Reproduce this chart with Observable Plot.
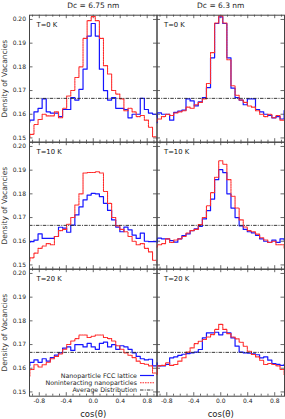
<!DOCTYPE html>
<html><head><meta charset="utf-8">
<script src="https://cdn.jsdelivr.net/npm/d3@7"></script>
<script src="https://cdn.jsdelivr.net/npm/@observablehq/plot@0.6"></script>
<style>
html,body{margin:0;padding:0;background:#fff;}
#chart{position:relative;width:285px;height:419px;font-family:"DejaVu Sans",sans-serif;}
#chart svg{position:absolute;left:0;top:0;}
</style></head><body><div id="chart"></div>
<script>
// ---- bins (cos theta bin centres) ----
const cosTheta = [-0.9697,-0.9091,-0.8485,-0.7879,-0.7273,-0.6667,-0.6061,-0.5455,-0.4848,-0.4242,-0.3636,-0.3030,-0.2424,-0.1818,-0.1212,-0.0606,0.0000,
  0.0606,0.1212,0.1818,0.2424,0.3030,0.3636,0.4242,0.4848,0.5455,0.6061,0.6667,0.7273,0.7879,0.8485,0.9091,0.9697];

const dcLabels = ["Dc = 6.75 nm", "Dc = 6.3 nm"];
const tempLabels = ["T=0 K", "T=10 K", "T=20 K"];
const yTickValues = [0.15, 0.16, 0.17, 0.18, 0.19, 0.20];
const xTickValues = [-0.8, -0.4, 0, 0.4, 0.8];
const xMinorTicks = [-0.9,-0.7,-0.6,-0.5,-0.3,-0.2,-0.1,0.1,0.2,0.3,0.5,0.6,0.7,0.9];
const avgDensity = [0.1667];
const yLabel = "Density of Vacancies";
const xLabel = "cos(θ)";
const legendLabels = ["Nanoparticle FCC lattice", "Noninteracting nanoparticles", "Average Distribution"];

// ---- Dc = 6.75 nm ----
const fcc_675_T0 = [0.1567,0.1575,0.1610,0.1625,0.1665,0.1610,0.1605,0.1605,0.1590,0.1620,0.1620,0.1670,0.1660,0.1705,0.1790,0.1930,0.1983,
  0.1930,0.1790,0.1700,0.1660,0.1670,0.1625,0.1625,0.1620,0.1585,0.1600,0.1600,0.1667,0.1620,0.1605,0.1600,0.1590];
const non_675_T0 = [0.1500,0.1515,0.1557,0.1578,0.1600,0.1593,0.1593,0.1610,0.1585,0.1625,0.1677,0.1700,0.1755,0.1800,0.1920,0.1995,0.2012,
  0.1995,0.1920,0.1805,0.1770,0.1700,0.1685,0.1665,0.1615,0.1625,0.1610,0.1590,0.1595,0.1575,0.1545,0.1505,0.1495];
const fcc_675_T10 = [0.1595,0.1598,0.1605,0.1631,0.1612,0.1612,0.1612,0.1620,0.1659,0.1655,0.1638,0.1668,0.1711,0.1745,0.1775,0.1795,0.1802,
  0.1800,0.1788,0.1760,0.1730,0.1690,0.1660,0.1640,0.1660,0.1648,0.1626,0.1612,0.1634,0.1600,0.1598,0.1598,0.1600];
const non_675_T10 = [0.1515,0.1530,0.1550,0.1570,0.1580,0.1590,0.1585,0.1620,0.1645,0.1650,0.1672,0.1700,0.1753,0.1800,0.1888,0.1890,0.1890,
  0.1893,0.1888,0.1810,0.1760,0.1700,0.1665,0.1650,0.1640,0.1620,0.1600,0.1585,0.1590,0.1570,0.1555,0.1520,0.1510];
const fcc_675_T20 = [0.1610,0.1625,0.1635,0.1625,0.1640,0.1630,0.1645,0.1655,0.1665,0.1685,0.1690,0.1675,0.1700,0.1700,0.1690,0.1705,0.1690,
  0.1680,0.1705,0.1710,0.1690,0.1700,0.1680,0.1695,0.1690,0.1680,0.1665,0.1650,0.1640,0.1635,0.1638,0.1610,0.1620];
const non_675_T20 = [0.1565,0.1595,0.1615,0.1605,0.1615,0.1625,0.1640,0.1650,0.1660,0.1680,0.1700,0.1715,0.1725,0.1740,0.1740,0.1730,0.1735,
  0.1740,0.1740,0.1730,0.1725,0.1715,0.1695,0.1680,0.1665,0.1655,0.1645,0.1630,0.1620,0.1617,0.1610,0.1580,0.1575];

// ---- Dc = 6.3 nm ----
const fcc_63_T0 = [0.1564,0.1606,0.1600,0.1600,0.1575,0.1608,0.1613,0.1617,0.1665,0.1656,0.1635,0.1652,0.1670,0.1712,0.1838,0.1983,0.2011,
  0.1983,0.1838,0.1710,0.1670,0.1660,0.1640,0.1665,0.1665,0.1620,0.1610,0.1600,0.1595,0.1585,0.1590,0.1580,0.1615];
const non_63_T0 = [0.1570,0.1580,0.1590,0.1600,0.1595,0.1605,0.1610,0.1615,0.1630,0.1625,0.1640,0.1650,0.1665,0.1730,0.1860,0.1985,0.2015,
  0.1985,0.1830,0.1720,0.1680,0.1660,0.1650,0.1635,0.1630,0.1615,0.1600,0.1590,0.1600,0.1585,0.1595,0.1575,0.1575];
const fcc_63_T10 = [0.1596,0.1613,0.1610,0.1610,0.1603,0.1596,0.1610,0.1624,0.1631,0.1645,0.1652,0.1663,0.1694,0.1729,0.1778,0.1860,0.1902,
  0.1890,0.1800,0.1740,0.1700,0.1665,0.1650,0.1640,0.1635,0.1625,0.1610,0.1600,0.1595,0.1605,0.1595,0.1610,0.1605];
const non_63_T10 = [0.1575,0.1585,0.1590,0.1610,0.1595,0.1605,0.1610,0.1620,0.1635,0.1645,0.1650,0.1670,0.1700,0.1750,0.1805,0.1870,0.1940,
  0.1925,0.1860,0.1790,0.1740,0.1690,0.1660,0.1645,0.1640,0.1630,0.1615,0.1605,0.1595,0.1600,0.1585,0.1585,0.1570];
const fcc_63_T20 = [0.1623,0.1610,0.1610,0.1616,0.1644,0.1648,0.1654,0.1659,0.1662,0.1665,0.1668,0.1679,0.1728,0.1749,0.1749,0.1752,0.1741,
  0.1752,0.1749,0.1728,0.1693,0.1668,0.1665,0.1664,0.1661,0.1657,0.1644,0.1648,0.1634,0.1620,0.1616,0.1612,0.1616];
const non_63_T20 = [0.1574,0.1610,0.1612,0.1623,0.1612,0.1616,0.1630,0.1644,0.1668,0.1686,0.1704,0.1714,0.1721,0.1732,0.1742,0.1764,0.1785,
  0.1764,0.1746,0.1732,0.1724,0.1710,0.1693,0.1672,0.1658,0.1648,0.1634,0.1616,0.1620,0.1616,0.1610,0.1595,0.1574];

const panels = [
  [[fcc_675_T0, non_675_T0], [fcc_63_T0, non_63_T0]],
  [[fcc_675_T10, non_675_T10], [fcc_63_T10, non_63_T10]],
  [[fcc_675_T20, non_675_T20], [fcc_63_T20, non_63_T20]]
];

// ---- layout ----
const W = 285, H = 419;
const left0 = 29, colW = 127.5, top0 = 14.7, rowH = 127;
const BLUE = "#1515ff", RED = "#ff2a2a", AXIS = "#444";
const RED_DASH = "1.6,0.9", AVG_DASH = "3.5,1.2,1,1.2";
const chart = document.getElementById("chart");

for (let r = 0; r < 3; r++) {
  for (let c = 0; c < 2; c++) {
    const [fcc, non] = panels[r][c];
    const data = cosTheta.map((x, i) => ({x, fcc: fcc[i], non: non[i]}));
    const ml = left0 + c * colW, mr = W - ml - colW;
    const mt = top0 + r * rowH, mb = H - mt - rowH;
    const marks = [
      Plot.tickX(xMinorTicks, {x: d => d, insetTop: rowH - 2, stroke: AXIS, strokeWidth: 0.8}),
      Plot.tickX(xMinorTicks, {x: d => d, insetBottom: rowH - 2, stroke: AXIS, strokeWidth: 0.8}),
      Plot.tickX(xTickValues, {x: d => d, insetTop: rowH - 3.5, stroke: AXIS, strokeWidth: 0.8}),
      Plot.tickX(xTickValues, {x: d => d, insetBottom: rowH - 3.5, stroke: AXIS, strokeWidth: 0.8}),
      Plot.tickY(yTickValues, {y: d => d, insetRight: colW - 3.5, stroke: AXIS, strokeWidth: 0.8}),
      Plot.tickY(yTickValues, {y: d => d, insetLeft: colW - 3.5, stroke: AXIS, strokeWidth: 0.8}),
      Plot.line(data, {x: "x", y: "fcc", curve: "step", stroke: BLUE, strokeWidth: 1.2, clip: true}),
      Plot.line(data, {x: "x", y: "non", curve: "step", stroke: RED, strokeWidth: 1.1, strokeDasharray: RED_DASH, clip: true}),
      Plot.ruleY(avgDensity, {y: d => d, stroke: "#222", strokeWidth: 0.9, strokeDasharray: AVG_DASH}),
      Plot.frame({stroke: AXIS, strokeWidth: 1}),
      Plot.text([tempLabels[r]], {text: d => d, frameAnchor: "top-left", dx: 7, dy: 7, lineAnchor: "top", textAnchor: "start", fontSize: 6.8, fill: "#111"})
    ];
    if (r === 0) marks.push(Plot.text([dcLabels[c]], {text: d => d, frameAnchor: "top", dy: -7.4, lineAnchor: "bottom", fontSize: 7.5, fill: "#222"}));
    if (c === 0) marks.push(Plot.text([yLabel], {text: d => d, frameAnchor: "left", dx: -25.1, rotate: -90, lineAnchor: "middle", textAnchor: "middle", fontSize: 7.5, fill: "#333"}));
    if (r === 2) marks.push(Plot.text([xLabel], {text: d => d, frameAnchor: "bottom", dy: 18, lineAnchor: "middle", fontSize: 8.5, fill: "#222"}));
    const svg = Plot.plot({
      width: W, height: H,
      marginLeft: ml, marginRight: mr, marginTop: mt, marginBottom: mb,
      style: {background: "none", fontFamily: "DejaVu Sans", fontSize: "6px", color: "#222", overflow: "visible"},
      x: {domain: [-0.945, 0.945], axis: r === 2 ? "bottom" : null, ticks: xTickValues, tickSize: 0, tickPadding: 2.5, tickFormat: d => d.toFixed(1), label: null},
      y: {domain: [0.1482, 0.2018], axis: c === 0 ? "left" : null, ticks: yTickValues, tickSize: 0, tickPadding: 3.5, tickFormat: d3.format(".2f"), label: null},
      marks
    });
    svg.style.position = "absolute"; svg.style.left = "0"; svg.style.top = "0";
    chart.appendChild(svg);
  }
}

// ---- legend (inside bottom-left panel) ----
const leg = d3.select(chart).append("svg").attr("width", W).attr("height", H)
  .style("font-family", "DejaVu Sans").style("font-size", "6.3px");
const legRowsY = [375.5, 382.7, 390];
const legStyles = [
  {stroke: BLUE, dash: null, w: 1.2},
  {stroke: RED, dash: RED_DASH, w: 1.1},
  {stroke: "#222", dash: AVG_DASH, w: 0.9}
];
legendLabels.forEach((lab, i) => {
  leg.append("text").attr("x", 137).attr("y", legRowsY[i]).attr("dy", "0.32em")
    .attr("text-anchor", "end").attr("fill", "#222").text(lab);
  leg.append("line").attr("x1", 140).attr("x2", 154).attr("y1", legRowsY[i]).attr("y2", legRowsY[i])
    .attr("stroke", legStyles[i].stroke).attr("stroke-width", legStyles[i].w)
    .attr("stroke-dasharray", legStyles[i].dash);
});
</script></body></html>
